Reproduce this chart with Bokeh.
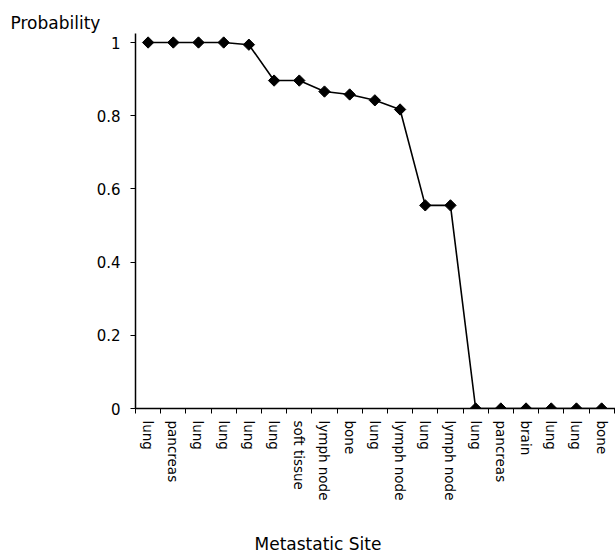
import numpy as np
from bokeh.plotting import figure
from bokeh.models import Range1d, FixedTicker, Title, LinearAxis
from bokeh.embed import file_html
from bokeh.resources import INLINE

sites = ["lung", "pancreas", "lung", "lung", "lung", "lung", "soft tissue",
         "lymph node", "bone", "lung", "lymph node", "lung", "lymph node",
         "lung", "pancreas", "brain", "lung", "lung", "bone"]
probability = [1.0, 1.0, 1.0, 1.0, 0.994, 0.896, 0.896, 0.866, 0.858, 0.842,
               0.817, 0.555, 0.555, 0.0, 0.0, 0.0, 0.0, 0.0, 0.0]
y_ticks = [0, 0.2, 0.4, 0.6, 0.8, 1.0]
y_tick_labels = ["0", "0.2", "0.4", "0.6", "0.8", "1"]

n = len(sites)
xs = [i + 0.5 for i in range(n)]

p = figure(width=615, height=554, output_backend="svg", toolbar_location=None,
           x_range=Range1d(0, 19.05), y_range=Range1d(0, 1.0246),
           min_border_left=135, min_border_top=33, min_border_right=0,
           min_border_bottom=146)
p.outline_line_color = None
p.grid.visible = False
p.background_fill_color = "white"
p.border_fill_color = "white"

p.line(xs, probability, line_color="black", line_width=1.6)
p.scatter(xs, probability, marker="square", angle=np.pi / 4, size=8,
          fill_color="black", line_color="black")

# x axis
xa = p.xaxis[0]
xa.ticker = FixedTicker(ticks=xs, minor_ticks=list(range(n + 1)))
xa.major_label_overrides = {x: s for x, s in zip(xs, sites)}
xa.major_label_orientation = "vertical"
xa.major_tick_out = 0
xa.major_tick_in = 0
xa.minor_tick_out = 5
xa.minor_tick_in = 0
xa.minor_tick_line_color = "black"
xa.axis_line_color = "black"
xa.axis_line_width = 1.5
xa.major_label_standoff = 7
xa.major_label_text_font = "DejaVu Sans"
xa.major_label_text_font_size = "13.5px"
xa.major_label_text_color = "black"

# invisible spacer axis (no line, no visible tick, empty label) pushes the axis title down
spacer = LinearAxis(ticker=FixedTicker(ticks=[xs[0]], minor_ticks=[]),
                    major_label_overrides={xs[0]: ""},
                    axis_line_color=None, major_tick_line_color=None,
                    minor_tick_line_color=None, major_tick_out=28,
                    major_tick_in=0, minor_tick_out=0, minor_tick_in=0,
                    major_label_standoff=0, major_label_text_font_size="1px")
p.add_layout(spacer, "below")

# y axis
ya = p.yaxis[0]
ya.ticker = FixedTicker(ticks=y_ticks, minor_ticks=[])
ya.major_label_overrides = {t: s for t, s in zip(y_ticks, y_tick_labels)}
ya.major_tick_out = 5
ya.major_tick_in = 0
ya.major_tick_line_color = "black"
ya.axis_line_color = "black"
ya.axis_line_width = 1.5
ya.major_label_standoff = 10
ya.major_label_text_font = "DejaVu Sans"
ya.major_label_text_font_size = "15px"
ya.major_label_text_color = "black"

p.add_layout(Title(text="Probability", align="left", offset=-125, standoff=1,
                   text_font="DejaVu Sans", text_font_size="17px",
                   text_font_style="normal", text_color="black"), "above")
p.add_layout(Title(text="Metastatic   Site", align="left", offset=119, standoff=0,
                   text_font="DejaVu Sans", text_font_size="17px",
                   text_font_style="normal", text_color="black"), "below")

open("out.html", "w").write(file_html(p, INLINE))
